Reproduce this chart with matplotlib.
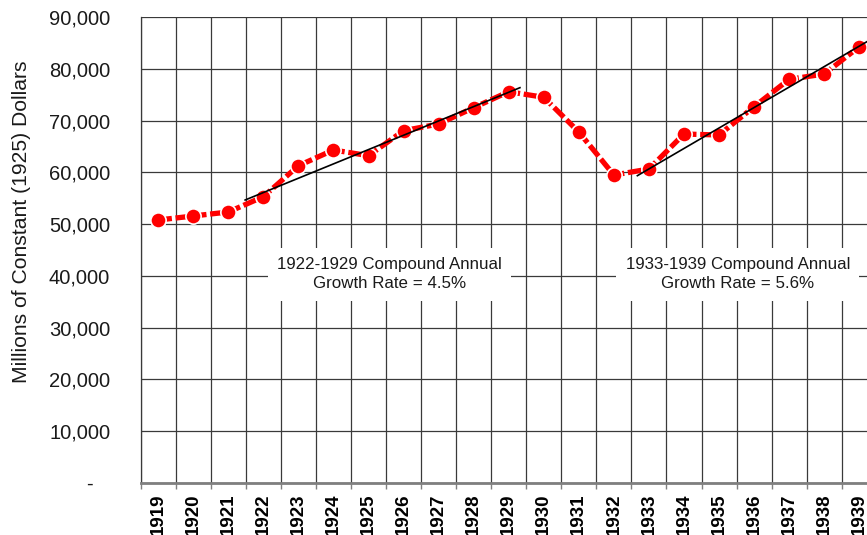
import matplotlib
matplotlib.use("Agg")
import matplotlib.pyplot as plt
from matplotlib.ticker import FuncFormatter, FixedLocator

plt.rcParams['font.family'] = ['Liberation Sans', 'DejaVu Sans']

years = [1919, 1920, 1921, 1922, 1923, 1924, 1925, 1926, 1927, 1928, 1929,
         1930, 1931, 1932, 1933, 1934, 1935, 1936, 1937, 1938, 1939]
values = [50800, 51575, 52350, 55310, 61300, 64340, 63240, 68070, 69370, 72520, 75610,
          74530, 67820, 59500, 60660, 67430, 67240, 72710, 78010, 79030, 84310]

# trend line end points (category position, value)
trend1_x = [2.48, 10.32]
trend1_y = [54670, 76390]
trend2_x = [13.67, 20.4]
trend2_y = [59370, 86000]

yticks = [0, 10000, 20000, 30000, 40000, 50000, 60000, 70000, 80000, 90000]
label1 = "1922-1929 Compound Annual\nGrowth Rate = 4.5%"
label2 = "1933-1939 Compound Annual\nGrowth Rate = 5.6%"
ylabel = "Millions of Constant (1925) Dollars"

W, H = 867, 535
fig = plt.figure(figsize=(W / 100, H / 100), dpi=100)
ax_left, ax_top, ax_bottom = 140.7, 17.3, 482.7
cat_w = 35.05
ax = fig.add_axes([ax_left / W, (H - ax_bottom) / H, len(years) * cat_w / W, (ax_bottom - ax_top) / H])

x = list(range(len(years)))
ax.set_xlim(-0.5, len(years) - 0.5)
ax.set_ylim(0, 90000)

grid_c = '#3a3a3a'
ax.set_yticks(yticks)
ax.yaxis.grid(True, color=grid_c, lw=0.9)
ax.xaxis.set_major_locator(FixedLocator(x))
ax.xaxis.set_minor_locator(FixedLocator([i + 0.5 for i in range(-1, len(years))]))
ax.xaxis.grid(True, which='minor', color=grid_c, lw=0.9)
ax.set_axisbelow(True)

ax.set_xticklabels([str(y) for y in years], rotation=90, fontweight='bold', fontsize=13.5)
ax.tick_params(axis='x', which='major', length=0, pad=7.5)
ax.tick_params(axis='x', which='minor', length=4, width=1.0, color='#7f7f7f')
ax.tick_params(axis='y', length=0, pad=22, labelsize=14.5, labelcolor='#1a1a1a')
ax.yaxis.set_major_formatter(FuncFormatter(lambda v, p: "-   " if v == 0 else f"{int(v):,}"))

for s in ['top', 'right']:
    ax.spines[s].set_visible(False)
ax.spines['left'].set_color(grid_c)
ax.spines['left'].set_linewidth(0.9)
ax.spines['bottom'].set_color('#7f7f7f')
ax.spines['bottom'].set_linewidth(2.0)

ax.plot(x, values, color='#ff0000', lw=3.8, dashes=[2.6, 0.7], zorder=3,
        marker='o', markersize=11, markerfacecolor='#ff0000', markeredgecolor='white',
        markeredgewidth=1.2, clip_on=False)
ax.plot(trend1_x, trend1_y, color='black', lw=1.2, zorder=4)
ax.plot(trend2_x, trend2_y, color='black', lw=1.2, zorder=4)

bbox = dict(boxstyle='square,pad=0.55', facecolor='white', edgecolor='none')
ax.text(6.6, 40300, label1, ha='center', va='center', fontsize=12.2, linespacing=1.35,
        color='#1a1a1a', bbox=bbox, zorder=5)
ax.text(16.54, 40300, label2, ha='center', va='center', fontsize=12.2, linespacing=1.35,
        color='#1a1a1a', bbox=bbox, zorder=5)

fig.text(22 / W, 1 - 222 / H, ylabel, rotation=90, ha='center', va='center',
         fontsize=15.2, color='#1a1a1a')

fig.savefig('out.png', dpi=100)
